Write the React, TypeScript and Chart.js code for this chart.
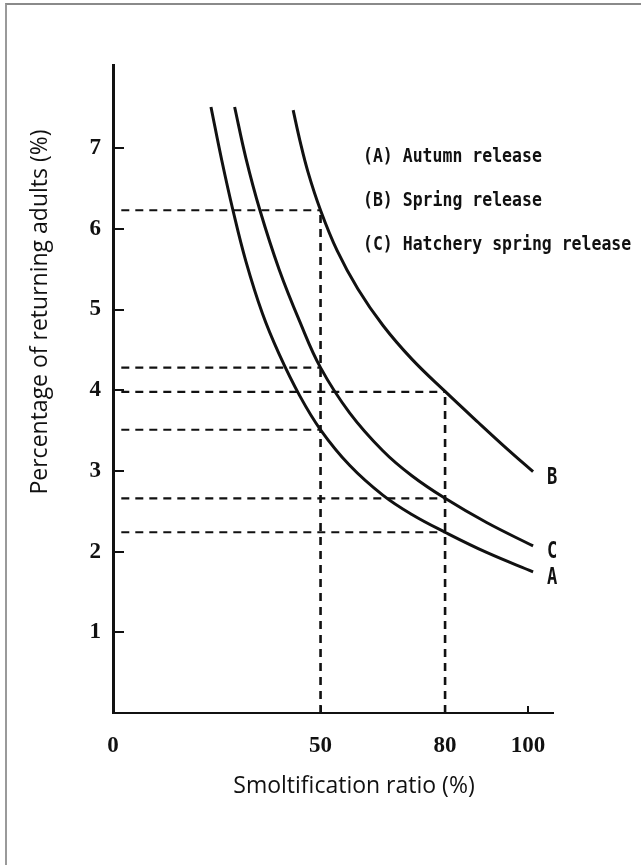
import React, { useEffect, useRef } from "react";
import { Chart, registerables } from "chart.js";
Chart.register(...registerables);

// ---- data ----
const xTickValues = [0, 50, 80, 100];
const yTickValues = [1, 2, 3, 4, 5, 6, 7];

const autumnX = [23.6, 26.2, 28.9, 32, 36, 40, 45, 50, 57, 65, 72, 80, 90, 101.2];
const autumnY = [7.51, 6.85, 6.23, 5.6, 4.95, 4.45, 3.93, 3.51, 3.07, 2.7, 2.46, 2.24, 1.99, 1.75];

const springX = [43.4, 45, 47, 50, 54, 59, 65, 72, 80, 88, 95, 101.2];
const springY = [7.47, 7.1, 6.7, 6.23, 5.73, 5.255, 4.805, 4.385, 3.985, 3.6, 3.27, 2.99];

const hatcheryX = [29.3, 32, 35.4, 40, 45, 50, 57, 65, 72, 80, 90, 101.2];
const hatcheryY = [7.51, 6.88, 6.23, 5.5, 4.85, 4.28, 3.72, 3.25, 2.94, 2.66, 2.36, 2.07];

const guideXs = [50, 80];
const guideYsAt50 = [6.23, 4.28, 3.51];
const guideYsAt80 = [3.98, 2.66, 2.24];
const guideStartX = 2;

const curveLetters = ["A", "B", "C"];
const legendLines = ["(A) Autumn release", "(B) Spring release", "(C) Hatchery spring release"];
const xTitle = "Smoltification ratio (%)";
const yTitle = "Percentage of returning adults (%)";

const xMin = 0;
const xMax = 106;
const yMin = 0;
const yMax = 8.03;

const toPoints = (xs: number[], ys: number[]) => xs.map((x, i) => ({ x, y: ys[i] }));

export default function App() {
  const ref = useRef<HTMLCanvasElement | null>(null);

  useEffect(() => {
    document.body.style.margin = "0";
    const canvas = ref.current;
    if (!canvas) return;

    const curveStyle = {
      showLine: true,
      borderColor: "#111",
      borderWidth: 3,
      pointRadius: 0,
      tension: 0.4,
      fill: false,
    };
    const dashStyle = {
      showLine: true,
      borderColor: "#111",
      borderWidth: 2.2,
      borderDash: [8, 6],
      pointRadius: 0,
      tension: 0,
      fill: false,
    };

    const guideSets: any[] = [];
    const guideYs = [guideYsAt50, guideYsAt80];
    guideXs.forEach((gx, gi) => {
      const ys = guideYs[gi];
      guideSets.push({ ...dashStyle, borderWidth: 2.6, data: [{ x: gx, y: 0 }, { x: gx, y: Math.max(...ys) }] });
      ys.forEach((gy) => {
        guideSets.push({ ...dashStyle, data: [{ x: guideStartX, y: gy }, { x: gx, y: gy }] });
      });
    });

    const curves = [
      { letter: curveLetters[0], data: toPoints(autumnX, autumnY) },
      { letter: curveLetters[1], data: toPoints(springX, springY) },
      { letter: curveLetters[2], data: toPoints(hatcheryX, hatcheryY) },
    ];

    const overlay = {
      id: "overlay",
      afterDatasetsDraw(chart: any) {
        const { ctx, chartArea } = chart;
        const xs = chart.scales.x;
        const ys = chart.scales.y;
        ctx.save();
        ctx.strokeStyle = "#111";
        ctx.fillStyle = "#111";
        // inner ticks
        ctx.lineWidth = 2;
        yTickValues.forEach((v) => {
          const py = Math.round(ys.getPixelForValue(v));
          ctx.beginPath();
          ctx.moveTo(chartArea.left, py);
          ctx.lineTo(chartArea.left + 11, py);
          ctx.stroke();
        });
        xTickValues.filter((v) => v > 0).forEach((v) => {
          const px = Math.round(xs.getPixelForValue(v));
          ctx.beginPath();
          ctx.moveTo(px, chartArea.bottom);
          ctx.lineTo(px, chartArea.bottom - 7);
          ctx.stroke();
        });
        // curve end labels (condensed look)
        ctx.font = "bold 19px 'DejaVu Sans Mono'";
        ctx.textAlign = "center";
        ctx.textBaseline = "middle";
        curves.forEach((c) => {
          const last = c.data[c.data.length - 1];
          const px = xs.getPixelForValue(last.x);
          const py = ys.getPixelForValue(last.y);
          ctx.save();
          ctx.translate(px + 19, py + 6);
          ctx.scale(0.9, 1.25);
          ctx.fillText(c.letter, 0, 0);
          ctx.restore();
        });
        // legend text
        ctx.font = "bold 16.5px 'DejaVu Sans Mono'";
        ctx.textAlign = "left";
        legendLines.forEach((t, i) => {
          ctx.save();
          ctx.translate(363, 157 + i * 44);
          ctx.scale(1, 1.22);
          ctx.fillText(t, 0, 0);
          ctx.restore();
        });
        // axis titles
        ctx.font = "23px 'Open Sans'";
        ctx.textAlign = "center";
        ctx.textBaseline = "middle";
        ctx.fillText(xTitle, 354, 786);
        ctx.save();
        ctx.translate(40, 312);
        ctx.rotate(-Math.PI / 2);
        ctx.fillText(yTitle, 0, 0);
        ctx.restore();
        ctx.restore();
      },
    };

    const tickFont = { family: "'Liberation Serif'", size: 23, weight: "bold" as const };

    const chart = new Chart(canvas, {
      type: "scatter",
      data: {
        datasets: [
          ...curves.map((c) => ({ ...curveStyle, label: c.letter, data: c.data })),
          ...guideSets,
        ],
      },
      options: {
        animation: false,
        responsive: false,
        devicePixelRatio: 1,
        layout: { padding: { top: 65, right: 88, left: 0, bottom: 0 } },
        plugins: { legend: { display: false }, tooltip: { enabled: false } },
        scales: {
          x: {
            type: "linear",
            min: xMin,
            max: xMax,
            afterFit: (s: any) => {
              s.height = 152;
            },
            afterBuildTicks: (s: any) => {
              s.ticks = xTickValues.map((v) => ({ value: v }));
            },
            grid: { display: false, drawTicks: false },
            border: { display: true, color: "#111", width: 2 },
            ticks: { font: tickFont, color: "#111", padding: 19, autoSkip: false, maxRotation: 0 },
          },
          y: {
            type: "linear",
            min: yMin,
            max: yMax,
            afterFit: (s: any) => {
              s.width = 113;
            },
            afterBuildTicks: (s: any) => {
              s.ticks = yTickValues.map((v) => ({ value: v }));
            },
            grid: { display: false, drawTicks: false },
            border: { display: true, color: "#111", width: 3 },
            ticks: { font: tickFont, color: "#111", padding: 12, autoSkip: false },
          },
        },
      },
      plugins: [overlay],
    });
    return () => chart.destroy();
  }, []);

  return (
    <div style={{ position: "relative", width: 641, height: 865, background: "#fff", overflow: "hidden" }}>
      <canvas ref={ref} width={641} height={865} style={{ display: "block", position: "absolute", left: 0, top: 0 }} />
      <div
        style={{
          position: "absolute",
          left: 5,
          top: 3,
          right: 0,
          bottom: 0,
          borderTop: "2px solid #8a8a8a",
          borderLeft: "2px solid #9a9a9a",
          pointerEvents: "none",
        }}
      />
    </div>
  );
}
